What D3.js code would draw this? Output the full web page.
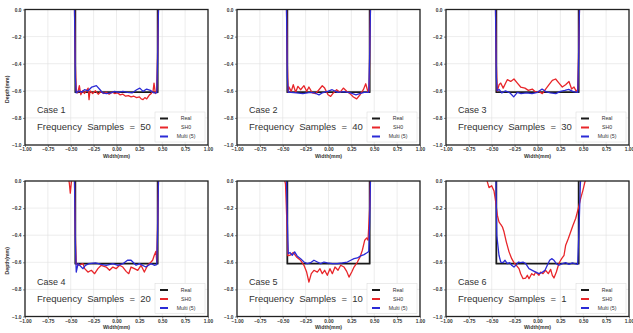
<!DOCTYPE html>
<html>
<head>
<meta charset="utf-8">
<script src="https://cdn.jsdelivr.net/npm/d3@7"></script>
<style>
  body { margin: 0; background: #fff; }
  text { font-family: "Liberation Sans", Arial, sans-serif; }
</style>
</head>
<body>
<svg id="chart" width="633" height="333"></svg>
<script>
// tick values
const xTicks = [-1, -0.75, -0.5, -0.25, 0, 0.25, 0.5, 0.75, 1];
const yTicks = [0, -0.2, -0.4, -0.6, -0.8, -1];

const caseLabels = ["Case 1", "Case 2", "Case 3", "Case 4", "Case 5", "Case 6"];
const freqSamples = [50, 40, 30, 20, 10, 1];
const legendNames = ["Real", "SH0", "Multi (5)"];

// real trench profile [width, depth]
const realProfile = [[-0.45, 0.05], [-0.45, -0.61], [0.45, -0.61], [0.45, 0.05]];

// SH0 reconstructions
const sh0Case1 = [[-0.46,0.05],[-0.45,-0.4],[-0.44,-0.6],[-0.424,-0.616],[-0.406,-0.562],[-0.39,-0.629],[-0.37,-0.6],[-0.35,-0.62],[-0.33,-0.6],[-0.31,-0.58],[-0.30,-0.665],[-0.29,-0.6],[-0.26,-0.62],[-0.23,-0.6],[-0.2,-0.625],[-0.17,-0.605],[-0.14,-0.62],[-0.11,-0.61],[-0.08,-0.625],[-0.05,-0.61],[-0.02,-0.62],[0.01,-0.615],[0.04,-0.63],[0.07,-0.625],[0.1,-0.64],[0.13,-0.635],[0.16,-0.645],[0.19,-0.64],[0.22,-0.65],[0.25,-0.645],[0.27,-0.66],[0.29,-0.665],[0.31,-0.65],[0.33,-0.66],[0.36,-0.63],[0.38,-0.62],[0.40,-0.6],[0.41,-0.543],[0.425,-0.62],[0.44,-0.6],[0.45,-0.3],[0.46,0.05]];
const sh0Case2 = [[-0.46,0.05],[-0.45,-0.4],[-0.44,-0.61],[-0.432,-0.572],[-0.407,-0.604],[-0.385,-0.555],[-0.359,-0.611],[-0.334,-0.567],[-0.305,-0.592],[-0.268,-0.562],[-0.239,-0.604],[-0.214,-0.572],[-0.177,-0.616],[-0.141,-0.621],[-0.104,-0.592],[-0.068,-0.563],[-0.042,-0.58],[-0.005,-0.629],[0.024,-0.641],[0.053,-0.616],[0.089,-0.592],[0.126,-0.611],[0.162,-0.58],[0.199,-0.604],[0.235,-0.621],[0.272,-0.646],[0.308,-0.66],[0.345,-0.629],[0.381,-0.592],[0.407,-0.548],[0.432,-0.611],[0.445,-0.6],[0.45,-0.3],[0.46,0.05]];
const sh0Case3 = [[-0.46,0.05],[-0.45,-0.4],[-0.44,-0.604],[-0.42,-0.555],[-0.402,-0.543],[-0.375,-0.58],[-0.348,-0.543],[-0.33,-0.518],[-0.293,-0.531],[-0.257,-0.513],[-0.22,-0.543],[-0.184,-0.572],[-0.137,-0.58],[-0.1,-0.597],[-0.057,-0.587],[-0.02,-0.611],[0.016,-0.604],[0.053,-0.621],[0.089,-0.587],[0.126,-0.555],[0.162,-0.523],[0.198,-0.513],[0.235,-0.543],[0.271,-0.572],[0.307,-0.555],[0.344,-0.531],[0.373,-0.587],[0.399,-0.572],[0.424,-0.604],[0.44,-0.59],[0.45,-0.3],[0.46,0.05]];
const sh0Case4 = [[-0.53,0.05],[-0.515,-0.02],[-0.505,-0.09],[-0.495,-0.02],[-0.485,0.05],[-0.46,0.05],[-0.45,-0.4],[-0.44,-0.61],[-0.42,-0.622],[-0.366,-0.61],[-0.348,-0.647],[-0.312,-0.672],[-0.275,-0.659],[-0.239,-0.684],[-0.203,-0.647],[-0.167,-0.622],[-0.112,-0.635],[-0.076,-0.659],[-0.04,-0.635],[-0.004,-0.647],[0.033,-0.622],[0.069,-0.635],[0.105,-0.667],[0.134,-0.684],[0.159,-0.635],[0.196,-0.647],[0.232,-0.659],[0.268,-0.622],[0.304,-0.672],[0.341,-0.622],[0.377,-0.598],[0.395,-0.585],[0.413,-0.548],[0.431,-0.519],[0.44,-0.598],[0.45,-0.3],[0.46,0.05]];
const sh0Case5 = [[-0.49,0.03],[-0.47,-0.02],[-0.455,-0.3],[-0.445,-0.55],[-0.42,-0.548],[-0.385,-0.528],[-0.35,-0.56],[-0.305,-0.585],[-0.268,-0.622],[-0.239,-0.672],[-0.214,-0.746],[-0.188,-0.684],[-0.159,-0.659],[-0.122,-0.672],[-0.093,-0.647],[-0.068,-0.684],[-0.042,-0.659],[-0.013,-0.696],[0.016,-0.647],[0.042,-0.684],[0.071,-0.635],[0.104,-0.659],[0.133,-0.622],[0.17,-0.635],[0.199,-0.667],[0.224,-0.709],[0.254,-0.672],[0.279,-0.635],[0.316,-0.598],[0.345,-0.56],[0.37,-0.511],[0.396,-0.437],[0.418,-0.42],[0.432,-0.437],[0.45,-0.2],[0.46,0.05]];
const sh0Case6 = [[-0.56,0.03],[-0.549,-0.005],[-0.53,-0.049],[-0.501,-0.035],[-0.475,-0.074],[-0.457,-0.153],[-0.439,-0.252],[-0.421,-0.301],[-0.402,-0.321],[-0.384,-0.338],[-0.366,-0.375],[-0.341,-0.449],[-0.311,-0.523],[-0.282,-0.573],[-0.257,-0.602],[-0.231,-0.622],[-0.202,-0.647],[-0.184,-0.684],[-0.158,-0.721],[-0.129,-0.716],[-0.111,-0.696],[-0.093,-0.721],[-0.064,-0.684],[-0.038,-0.696],[-0.02,-0.672],[0.016,-0.696],[0.035,-0.672],[0.06,-0.684],[0.089,-0.659],[0.118,-0.684],[0.144,-0.652],[0.162,-0.696],[0.18,-0.716],[0.206,-0.672],[0.228,-0.622],[0.242,-0.598],[0.264,-0.573],[0.29,-0.548],[0.308,-0.474],[0.337,-0.425],[0.363,-0.375],[0.388,-0.326],[0.417,-0.277],[0.446,-0.202],[0.472,-0.128],[0.497,-0.067],[0.519,-0.005],[0.55,0.03]];

// Multi (5) reconstructions
const multiCase1 = [[-0.46,0.05],[-0.45,-0.5],[-0.44,-0.616],[-0.41,-0.6],[-0.38,-0.61],[-0.35,-0.592],[-0.31,-0.6],[-0.27,-0.572],[-0.22,-0.562],[-0.18,-0.592],[-0.15,-0.616],[-0.11,-0.621],[-0.06,-0.616],[-0.02,-0.604],[0.02,-0.611],[0.07,-0.604],[0.12,-0.611],[0.17,-0.616],[0.22,-0.592],[0.255,-0.58],[0.29,-0.604],[0.33,-0.587],[0.37,-0.597],[0.41,-0.616],[0.44,-0.616],[0.45,-0.35],[0.46,0.05]];
const multiCase2 = [[-0.46,0.05],[-0.45,-0.5],[-0.44,-0.611],[-0.41,-0.611],[-0.35,-0.616],[-0.28,-0.621],[-0.2,-0.611],[-0.15,-0.616],[-0.104,-0.63],[-0.07,-0.616],[-0.01,-0.604],[0.04,-0.592],[0.1,-0.611],[0.17,-0.606],[0.24,-0.616],[0.3,-0.63],[0.34,-0.621],[0.39,-0.611],[0.44,-0.611],[0.45,-0.35],[0.46,0.05]];
const multiCase3 = [[-0.46,0.05],[-0.45,-0.5],[-0.44,-0.6],[-0.42,-0.59],[-0.39,-0.616],[-0.35,-0.6],[-0.3,-0.616],[-0.26,-0.645],[-0.22,-0.611],[-0.18,-0.621],[-0.12,-0.616],[-0.06,-0.621],[0.0,-0.611],[0.05,-0.587],[0.09,-0.606],[0.14,-0.616],[0.2,-0.621],[0.25,-0.604],[0.3,-0.597],[0.34,-0.59],[0.39,-0.606],[0.44,-0.611],[0.45,-0.35],[0.46,0.05]];
const multiCase4 = [[-0.46,0.05],[-0.45,-0.45],[-0.44,-0.672],[-0.42,-0.61],[-0.366,-0.647],[-0.34,-0.622],[-0.3,-0.61],[-0.23,-0.605],[-0.167,-0.615],[-0.112,-0.622],[-0.04,-0.61],[0.015,-0.622],[0.07,-0.61],[0.12,-0.585],[0.159,-0.585],[0.214,-0.622],[0.25,-0.61],[0.32,-0.635],[0.377,-0.61],[0.413,-0.622],[0.44,-0.617],[0.45,-0.35],[0.46,0.05]];
const multiCase5 = [[-0.46,0.05],[-0.45,-0.3],[-0.44,-0.536],[-0.42,-0.528],[-0.396,-0.548],[-0.37,-0.523],[-0.343,-0.553],[-0.305,-0.573],[-0.268,-0.598],[-0.232,-0.61],[-0.196,-0.603],[-0.159,-0.585],[-0.122,-0.598],[-0.086,-0.61],[-0.05,-0.598],[-0.013,-0.605],[0.042,-0.61],[0.096,-0.61],[0.151,-0.605],[0.206,-0.598],[0.243,-0.585],[0.279,-0.573],[0.315,-0.568],[0.352,-0.553],[0.388,-0.543],[0.425,-0.528],[0.44,-0.52],[0.45,-0.3],[0.46,0.05]];
const multiCase6 = [[-0.455,0.05],[-0.445,-0.4],[-0.421,-0.548],[-0.402,-0.598],[-0.377,-0.602],[-0.355,-0.585],[-0.33,-0.61],[-0.304,-0.602],[-0.282,-0.622],[-0.257,-0.635],[-0.231,-0.617],[-0.209,-0.598],[-0.184,-0.602],[-0.158,-0.598],[-0.129,-0.61],[-0.093,-0.647],[-0.057,-0.659],[-0.02,-0.672],[0.016,-0.684],[0.045,-0.677],[0.082,-0.659],[0.107,-0.622],[0.133,-0.585],[0.155,-0.573],[0.18,-0.585],[0.206,-0.61],[0.235,-0.622],[0.271,-0.61],[0.308,-0.602],[0.344,-0.615],[0.381,-0.605],[0.417,-0.612],[0.439,-0.615],[0.453,-0.375],[0.468,-0.03],[0.475,0.05]];

const sh0Profiles = [sh0Case1, sh0Case2, sh0Case3, sh0Case4, sh0Case5, sh0Case6];
const multiProfiles = [multiCase1, multiCase2, multiCase3, multiCase4, multiCase5, multiCase6];

// layout
const colLefts = [25, 237, 446];
const rowTops = [9.5, 181];
const panelW = 183, panelH = 135.5;
const colors = ["#1a1a1a", "#e8262a", "#2b2bd6"];
const widths = [1.8, 1.3, 1.3];

const svg = d3.select("#chart");

caseLabels.forEach((label, i) => {
  const col = i % 3, row = Math.floor(i / 3);
  const w = panelW, h = panelH;
  const x = d3.scaleLinear().domain([-1, 1]).range([0, w]);
  const y = d3.scaleLinear().domain([-1, 0]).range([h, 0]);
  const g = svg.append("g").attr("transform", `translate(${colLefts[col]},${rowTops[row]})`);

  g.append("clipPath").attr("id", "clip" + i)
    .append("rect").attr("width", w).attr("height", h);

  // grid
  g.selectAll(".gx").data(xTicks).enter().append("line")
    .attr("x1", d => x(d)).attr("x2", d => x(d)).attr("y1", 0).attr("y2", h)
    .attr("stroke", "#e0e0e0").attr("stroke-width", 0.6);
  g.selectAll(".gy").data(yTicks).enter().append("line")
    .attr("x1", 0).attr("x2", w).attr("y1", d => y(d)).attr("y2", d => y(d))
    .attr("stroke", "#e0e0e0").attr("stroke-width", 0.6);

  const line = d3.line().x(d => x(d[0])).y(d => y(d[1]));
  const series = [realProfile, sh0Profiles[i], multiProfiles[i]];
  const plot = g.append("g").attr("clip-path", `url(#clip${i})`);
  series.forEach((s, k) => {
    plot.append("path").datum(s).attr("d", line)
      .attr("fill", "none").attr("stroke", colors[k])
      .attr("stroke-width", widths[k]).attr("stroke-linejoin", "round");
  });

  // annotations
  g.append("text").attr("x", 12).attr("y", h - 32)
    .attr("font-size", 9).attr("fill", "#333").text(label);
  g.append("text").attr("x", 12).attr("y", h - 15)
    .attr("font-size", 9.5).attr("fill", "#333").style("white-space", "pre")
    .text(`Frequency  Samples  =  ${freqSamples[i]}`);

  // legend
  const lg = g.append("g").attr("transform", `translate(${w - 53},${h - 33})`);
  lg.append("rect").attr("width", 50).attr("height", 30)
    .attr("fill", "#fff").attr("stroke", "#d8d8d8").attr("stroke-width", 0.5);
  legendNames.forEach((name, k) => {
    lg.append("line").attr("x1", 5).attr("x2", 13)
      .attr("y1", 6.5 + k * 9).attr("y2", 6.5 + k * 9)
      .attr("stroke", colors[k]).attr("stroke-width", 2);
    lg.append("text").attr("x", 31).attr("y", 8.3 + k * 9)
      .attr("text-anchor", "middle").attr("font-size", 5.2).attr("fill", "#333")
      .text(name);
  });

  // frame
  g.append("rect").attr("width", w).attr("height", h)
    .attr("fill", "none").attr("stroke", "#222").attr("stroke-width", 1.3);

  // axes
  const ax = g.append("g").attr("transform", `translate(0,${h})`)
    .call(d3.axisBottom(x).tickValues(xTicks).tickFormat(d3.format(".2f")).tickSize(2).tickPadding(1));
  const ay = g.append("g")
    .call(d3.axisLeft(y).tickValues(yTicks).tickFormat(d3.format(".1f")).tickSize(2).tickPadding(1.5));
  [ax, ay].forEach(a => {
    a.select(".domain").remove();
    a.selectAll("text").attr("font-size", 4.8).attr("font-weight", "bold").attr("fill", "#333")
      .attr("font-family", "\"Liberation Sans\", Arial, sans-serif");
    a.selectAll("line").attr("stroke", "#333").attr("stroke-width", 0.6);
  });

  g.append("text").attr("x", w / 2).attr("y", h + 12.5)
    .attr("text-anchor", "middle").attr("font-size", 5.2).attr("font-weight", "bold")
    .attr("fill", "#333").text("Width(mm)");
  if (col === 0) {
    g.append("text").attr("transform", `translate(-16,${h / 2 + 12}) rotate(-90)`)
      .attr("text-anchor", "middle").attr("font-size", 5.2).attr("font-weight", "bold")
      .attr("fill", "#333").text("Depth(mm)");
  }
});
</script>
</body>
</html>
